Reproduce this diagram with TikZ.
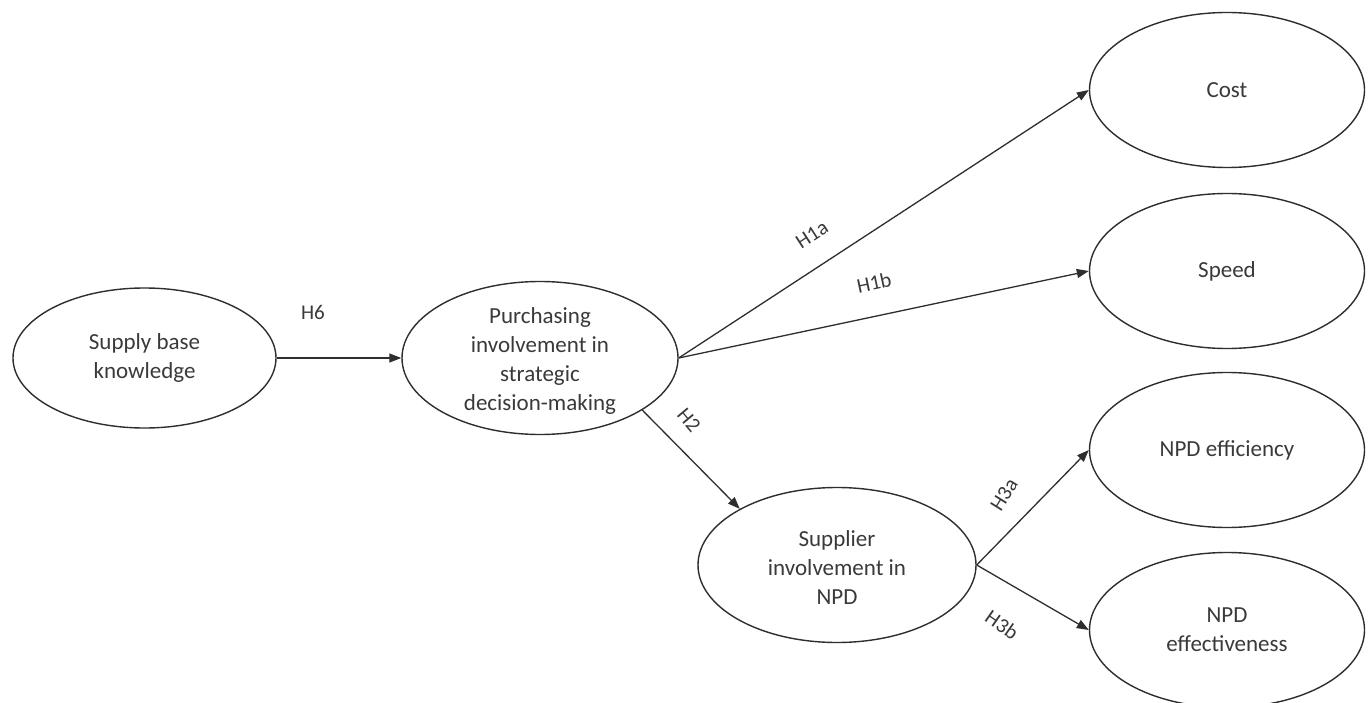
\documentclass[tikz,border=0pt]{standalone}
\usepackage{fontspec}
\setmainfont{Carlito}
\usetikzlibrary{shapes.geometric,arrows.meta}
\definecolor{ink}{HTML}{2E2E2E}
\definecolor{txt}{HTML}{3A3A3A}
\begin{document}
\begin{tikzpicture}[x=1pt,y=-1pt,
  construct/.style={draw=ink,line width=1.4pt,ellipse,inner sep=0pt,
    minimum width=#1},
  construct/.default=276pt,
  caption/.style={text=txt,font=\fontsize{23}{29}\selectfont,align=center,inner sep=0pt},
  hyp/.style={text=txt,font=\fontsize{21}{25}\selectfont,inner sep=0pt},
  path/.style={draw=ink,line width=1.3pt,-{Triangle[length=12pt,width=9pt]}}]
\useasboundingbox[fill=white] (0,0) rectangle (1370,703);

% constructs
\node[construct=263pt,minimum height=140pt] (sbk) at (144.5,358) {};
\node[construct,minimum height=153pt] (pur) at (540,358) {};
\node[construct=278pt,minimum height=155pt] (sup) at (837,565) {};
\node[construct=275pt,minimum height=155pt] (cost) at (1227,90) {};
\node[construct=275pt,minimum height=155pt] (speed) at (1227,271) {};
\node[construct=275pt,minimum height=155pt] (eff) at (1227,450) {};
\node[construct=275pt,minimum height=155pt] (effv) at (1227,630) {};

% construct names
\node[caption] at (sbk.center) {Supply base\\knowledge};
\node[caption] at ([yshift=-3pt]pur.center) {Purchasing\\involvement in\\strategic\\decision-making};
\node[caption] at ([yshift=-3pt]sup.center) {Supplier\\involvement in\\NPD};
\node[caption] at (cost.center) {Cost};
\node[caption] at (speed.center) {Speed};
\node[caption] at (eff.center) {NPD efficiency};
\node[caption] at (effv.center) {NPD\\effectiveness};

% hypothesised paths
\draw[path] (sbk.east) -- (pur.west);
\draw[path] (pur.east) -- (cost.west);
\draw[path] (pur.east) -- (speed.west);
\draw[path] (pur.-27) -- (sup.150);
\draw[path] (sup.east) -- (eff.west);
\draw[path] (sup.east) -- (effv.west);

% path labels
\node[hyp] (h6) at (313,312) {H6};
\node[hyp,rotate=33] (h1a) at (812,235) {H1a};
\node[hyp,rotate=12] (h1b) at (874,283) {H1b};
\node[hyp,rotate=-50] (h2) at (689,420) {H2};
\node[hyp,rotate=58] (h3a) at (1004,495) {H3a};
\node[hyp,rotate=-35] (h3b) at (1002,625) {H3b};
\end{tikzpicture}
\end{document}
